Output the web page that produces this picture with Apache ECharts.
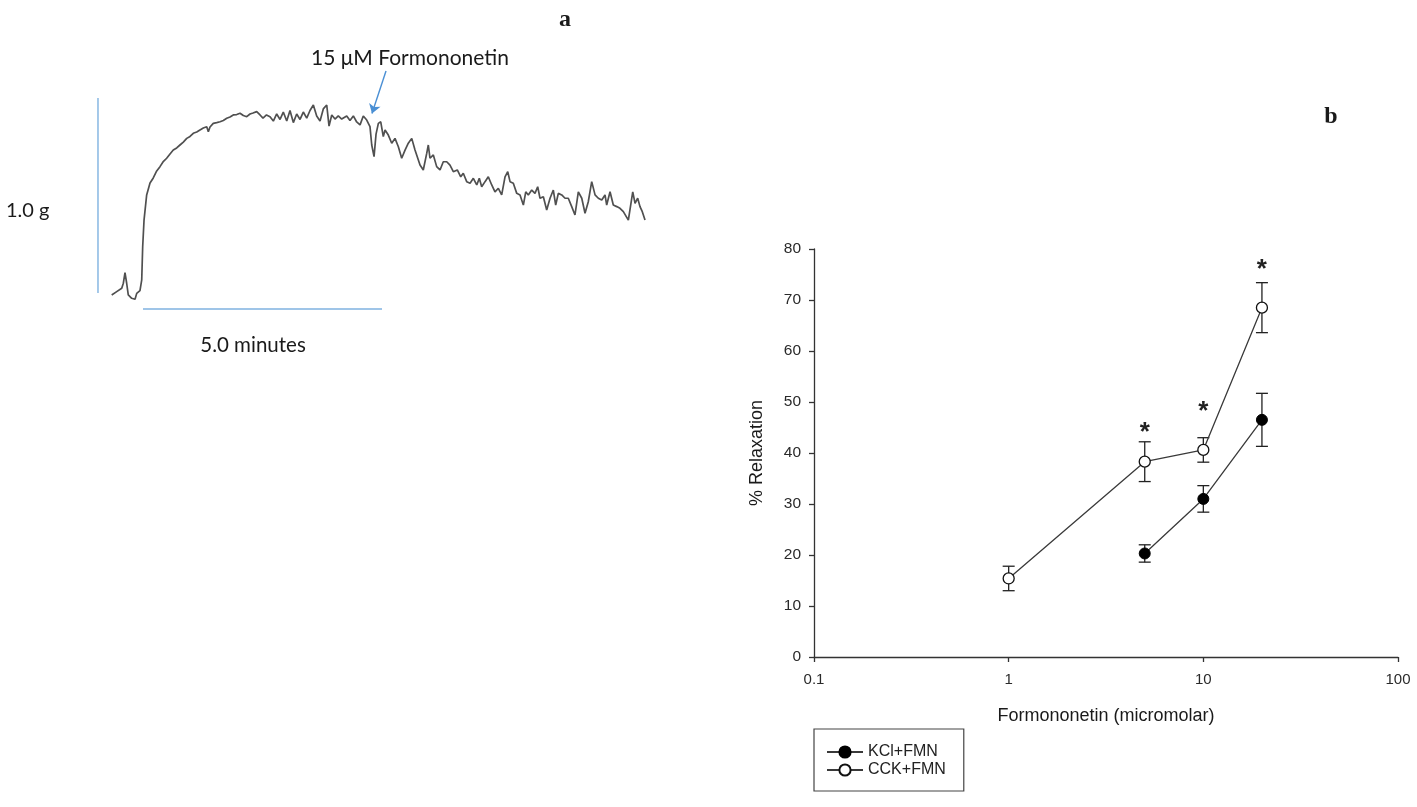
<!DOCTYPE html>
<html><head><meta charset="utf-8">
<script src="https://cdn.jsdelivr.net/npm/echarts@6/dist/echarts.min.js"></script>
<style>html,body{margin:0;padding:0;background:#fff}#c{width:1417px;height:807px}</style>
</head><body><div id="c"></div>
<script>
// ---------- Panel b data ----------
const kclDose = [5, 10, 20];
const kclMean = [20.3, 31.0, 46.5];
const kclSem  = [1.7, 2.6, 5.2];
const cckDose = [1, 5, 10, 20];
const cckMean = [15.4, 38.3, 40.6, 68.5];
const cckSem  = [2.4, 3.9, 2.4, 4.9];
const starDose = [5, 10, 20];
const starY    = [43.9, 48.0, 75.9];
const xTickLabels = [0.1, 1, 10, 100];
const yTickLabels = [0, 10, 20, 30, 40, 50, 60, 70, 80];

// ---------- Panel a data (tension trace, time in s, force in g) ----------
const traceTime = [-39.3,-33.0,-26.7,-24.7,-22.6,-20.5,-18.5,-14.2,-10.0,-7.9,
-3.8,-1.6,-0.4,1.3,4.6,8.8,12.9,17.2,21.3,25.1,
29.7,33.9,38.0,42.3,46.4,50.6,54.9,59.0,63.1,67.4,
71.5,75.7,80.0,82.0,84.1,88.2,92.5,96.7,100.8,105.1,
109.2,113.3,117.6,121.8,125.9,130.2,134.3,138.1,142.7,146.9,
150.6,155.0,159.4,163.6,167.8,172.0,176.1,180.4,184.5,188.7,
192.9,197.1,201.2,205.5,209.6,213.8,218.0,222.2,226.3,230.6,
233.5,236.9,241.0,245.1,249.4,255.7,259.8,264.0,268.2,272.4,
276.5,280.8,284.9,287.1,290.0,292.5,295.4,298.4,301.6,303.8,
307.9,312.2,316.3,320.5,324.7,328.9,333.0,337.3,341.4,347.7,
351.8,356.1,358.1,360.2,364.4,368.6,372.8,376.9,381.2,385.3,
389.5,394.5,398.8,402.0,406.3,410.5,414.6,418.9,422.1,425.1,
429.3,433.4,437.7,441.8,446.0,450.2,454.4,457.8,460.7,464.8,
469.1,473.2,477.4,480.4,483.6,487.9,492.0,495.4,498.3,502.5,
506.7,510.9,515.0,518.0,521.3,525.6,529.7,533.8,538.1,542.2,
546.4,550.7,554.8,558.9,563.2,567.4,571.5,575.8,579.9,582.0,
586.2,590.3,594.6,598.7,602.9,609.2,614.7,617.6,620.9,623.8,
626.7,630.1];
const traceForce = [-0.010,0.007,0.024,0.050,0.104,0.050,-0.010,-0.027,-0.032,-0.002,
0.012,0.067,0.237,0.374,0.503,0.564,0.590,0.626,0.648,0.672,
0.691,0.713,0.733,0.744,0.759,0.774,0.793,0.803,0.819,0.826,
0.836,0.846,0.853,0.827,0.851,0.870,0.874,0.878,0.885,0.896,
0.903,0.913,0.915,0.922,0.910,0.904,0.918,0.923,0.930,0.913,
0.897,0.913,0.904,0.882,0.918,0.890,0.928,0.882,0.936,0.874,
0.918,0.890,0.928,0.897,0.936,0.964,0.908,0.882,0.944,0.964,
0.856,0.913,0.892,0.908,0.892,0.908,0.885,0.908,0.877,0.862,
0.908,0.887,0.853,0.759,0.699,0.815,0.870,0.878,0.802,0.836,
0.810,0.768,0.793,0.750,0.691,0.733,0.768,0.793,0.733,0.656,
0.631,0.716,0.759,0.691,0.708,0.648,0.631,0.673,0.673,0.656,
0.622,0.631,0.596,0.614,0.571,0.563,0.588,0.554,0.588,0.545,
0.571,0.596,0.554,0.519,0.537,0.503,0.596,0.622,0.571,0.563,
0.511,0.503,0.451,0.519,0.503,0.528,0.511,0.545,0.486,0.494,
0.426,0.486,0.528,0.451,0.511,0.503,0.486,0.486,0.443,0.400,
0.519,0.486,0.409,0.468,0.571,0.503,0.486,0.477,0.503,0.451,
0.519,0.451,0.443,0.434,0.417,0.374,0.519,0.460,0.486,0.443,
0.417,0.374];
const forceBar = [[-56.5, 0], [-56.5, 1.0]];      // 1.0 g
const timeBar  = [[0, -0.082], [300, -0.082]];    // 5.0 minutes
const arrowFrom = [305, 1.138];
const arrowTo   = [287.4, 0.921];

const chart = echarts.init(document.getElementById('c'), null, {renderer: 'canvas'});

function errRender(params, api) {
  const x = api.value(0), lo = api.value(1), hi = api.value(2);
  const a = api.coord([x, lo]), b = api.coord([x, hi]);
  const w = 6;
  const st = {stroke: '#222', lineWidth: 1.3, fill: null};
  return {type: 'group', children: [
    {type: 'line', shape: {x1: a[0], y1: a[1], x2: b[0], y2: b[1]}, style: st},
    {type: 'line', shape: {x1: a[0] - w, y1: a[1], x2: a[0] + w, y2: a[1]}, style: st},
    {type: 'line', shape: {x1: b[0] - w, y1: b[1], x2: b[0] + w, y2: b[1]}, style: st}
  ]};
}
function starRender(params, api) {
  const p = api.coord([api.value(0), api.value(1)]);
  return {type: 'text', x: p[0], y: p[1], style: {text: '*', font: 'bold 26px "Liberation Sans"', fill: '#222', align: 'center', verticalAlign: 'middle'}};
}

const txt = (text, x, y, font, align) => ({type: 'text', x, y, style: {text, font, fill: '#1a1a1a', align: align || 'center', verticalAlign: 'middle'}});

const option = {
  animation: false,
  backgroundColor: '#fff',
  grid: [
    {left: 95.2, top: 68.75, width: 557.7, height: 243.75},
    {left: 814, top: 249, width: 584, height: 408}
  ],
  xAxis: [
    {gridIndex: 0, type: 'value', min: -60, max: 640, show: false},
    {gridIndex: 1, type: 'log', logBase: 10, min: 0.1, max: 100,
     name: 'Formononetin (micromolar)', nameLocation: 'middle', nameGap: 50,
     nameTextStyle: {fontSize: 18, color: '#1a1a1a', fontFamily: 'Liberation Sans'},
     axisLine: {show: true, lineStyle: {color: '#333', width: 1.3}},
     axisTick: {show: true, length: 5, lineStyle: {color: '#333', width: 1.3}},
     minorTick: {show: false}, splitLine: {show: false},
     axisLabel: {color: '#2a2a2a', fontSize: 15, fontFamily: 'Liberation Sans', margin: 15,
       formatter: v => { const r = xTickLabels.find(t => Math.abs(t - v) / t < 1e-6); return r === undefined ? '' : String(r); }}
    }
  ],
  yAxis: [
    {gridIndex: 0, type: 'value', min: -0.1, max: 1.15, show: false},
    {gridIndex: 1, type: 'value', min: 0, max: 80, interval: 10,
     name: '% Relaxation', nameLocation: 'middle', nameGap: 48, nameRotate: 90,
     nameTextStyle: {fontSize: 18, color: '#1a1a1a', fontFamily: 'Liberation Sans'},
     axisLine: {show: true, lineStyle: {color: '#333', width: 1.3}},
     axisTick: {show: true, length: 5, lineStyle: {color: '#333', width: 1.3}},
     splitLine: {show: false},
     axisLabel: {color: '#2a2a2a', fontSize: 15.5, fontFamily: 'Liberation Sans', margin: 13,
       formatter: v => yTickLabels.includes(v) ? String(v) : ''}
    }
  ],
  legend: {
    data: ['KCl+FMN', 'CCK+FMN'], orient: 'vertical', left: 814, top: 729,
    itemWidth: 36, itemHeight: 14, itemGap: 2,
    padding: [15, 18, 13, 12], borderColor: '#444', borderWidth: 1.2,
    textStyle: {fontSize: 16, lineHeight: 15, color: '#222', fontFamily: 'Liberation Sans'}
  },
  series: [
    {type: 'line', xAxisIndex: 0, yAxisIndex: 0, data: traceTime.map((t, i) => [t, traceForce[i]]),
     showSymbol: false, symbol: 'none', lineStyle: {color: '#505050', width: 1.7}, silent: true,
     markLine: {silent: true, symbol: ['none', 'arrow'], symbolSize: 9,
       lineStyle: {color: '#4a8fd4', width: 1.4, type: 'solid'}, label: {show: false},
       data: [[{coord: arrowFrom}, {coord: arrowTo}]]}},
    {type: 'line', xAxisIndex: 0, yAxisIndex: 0, data: forceBar, symbol: 'none', lineStyle: {color: '#7fb2e0', width: 1.4}, silent: true},
    {type: 'line', xAxisIndex: 0, yAxisIndex: 0, data: timeBar, symbol: 'none', lineStyle: {color: '#7fb2e0', width: 1.4}, silent: true},

    {type: 'custom', name: 'errKCl', xAxisIndex: 1, yAxisIndex: 1, renderItem: errRender, z: 1,
     data: kclDose.map((d, i) => [d, kclMean[i] - kclSem[i], kclMean[i] + kclSem[i]]), encode: {x: 0, y: [1, 2]}},
    {type: 'custom', name: 'errCCK', xAxisIndex: 1, yAxisIndex: 1, renderItem: errRender, z: 1,
     data: cckDose.map((d, i) => [d, cckMean[i] - cckSem[i], cckMean[i] + cckSem[i]]), encode: {x: 0, y: [1, 2]}},
    {type: 'line', name: 'KCl+FMN', xAxisIndex: 1, yAxisIndex: 1, z: 3,
     data: kclDose.map((d, i) => [d, kclMean[i]]), symbol: 'circle', symbolSize: 11, showSymbol: true,
     lineStyle: {color: '#3a3a3a', width: 1.3}, itemStyle: {color: '#000', borderColor: '#000', borderWidth: 1}},
    {type: 'line', name: 'CCK+FMN', xAxisIndex: 1, yAxisIndex: 1, z: 3,
     data: cckDose.map((d, i) => [d, cckMean[i]]), symbol: 'circle', symbolSize: 11, showSymbol: true,
     lineStyle: {color: '#3a3a3a', width: 1.3}, itemStyle: {color: '#fff', borderColor: '#111', borderWidth: 1.3}},
    {type: 'custom', name: 'stars', xAxisIndex: 1, yAxisIndex: 1, renderItem: starRender, z: 4,
     data: starDose.map((d, i) => [d, starY[i]]), encode: {x: 0, y: 1}}
  ],
  graphic: [
    txt('a', 565, 20, 'bold 24px "Liberation Serif"'),
    txt('b', 1331, 117, 'bold 24px "Liberation Serif"'),
    txt('15 \u03bcM Formononetin', 410, 58, '21px Lato'),
    txt('1.0 g', 6, 211, '20px Lato', 'left'),
    txt('5.0 minutes', 253, 345, '20.5px Lato')
  ]
};
chart.setOption(option);
</script></body></html>
